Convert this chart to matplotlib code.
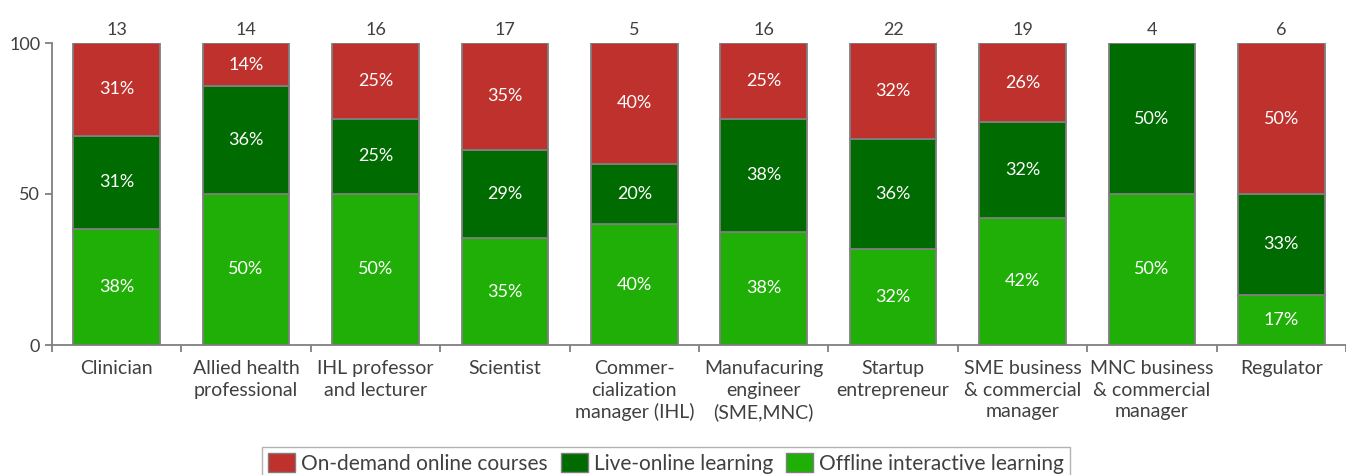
import matplotlib
matplotlib.use("Agg")
import matplotlib.pyplot as plt
from matplotlib.patches import Patch
import numpy as np

categories = ["Clinician", "Allied health\nprofessional", "IHL professor\nand lecturer", "Scientist",
              "Commer-\ncialization\nmanager (IHL)", "Manufacuring\nengineer\n(SME,MNC)",
              "Startup\nentrepreneur", "SME business\n& commercial\nmanager",
              "MNC business\n& commercial\nmanager", "Regulator"]
# respondent counts per preference
offline_counts = [5, 7, 8, 6, 2, 6, 7, 8, 2, 1]
live_counts = [4, 5, 4, 5, 1, 6, 8, 6, 2, 2]
ondemand_counts = [4, 2, 4, 6, 2, 4, 7, 5, 0, 3]
totals = [13, 14, 16, 17, 5, 16, 22, 19, 4, 6]
series_names = ["On-demand online courses", "Live-online learning", "Offline interactive learning"]

c_red = "#BE312D"
c_dark = "#006B00"
c_light = "#1FAF06"
edge = "#7F7F7F"
txt = "#404040"

plt.rcParams['font.family'] = ['Lato', 'DejaVu Sans']

fig = plt.figure(figsize=(13.46, 4.75), dpi=100)
ax = fig.add_axes([52/1346, 1-345/475, 1-52/1346, (345-43)/475])

x = np.arange(len(categories))
tot = np.array(totals, dtype=float)
off = np.array(offline_counts) / tot * 100
live = np.array(live_counts) / tot * 100
ond = np.array(ondemand_counts) / tot * 100
w = 0.67

def draw(vals, bottom, color):
    bars = ax.bar(x, vals, w, bottom=bottom, color=color, edgecolor=edge, linewidth=1.3, zorder=2)
    for xi, v, b in zip(x, vals, bottom):
        if v > 0:
            ax.text(xi, b + v/2, f"{v:.0f}%", ha='center', va='center', color='white', fontsize=13)
    return bars

draw(off, np.zeros(len(x)), c_light)
draw(live, off, c_dark)
draw(ond, off + live, c_red)

for xi, t in zip(x, totals):
    ax.text(xi, 101.5, str(t), ha='center', va='bottom', color=txt, fontsize=13)

ax.set_xlim(-0.5, len(x) - 0.5)
ax.set_ylim(0, 100)
ax.set_yticks([0, 50, 100])
ax.tick_params(axis='y', colors=edge, labelcolor=txt, labelsize=13, length=5, width=1.3)
ax.set_xticks(np.arange(-0.5, len(x)), minor=False)
ax.set_xticklabels([])
ax.tick_params(axis='x', colors=edge, length=5, width=1.3, direction='out')
for xi, lab in zip(x, categories):
    ax.text(xi, -5.0, lab, ha='center', va='top', color=txt, fontsize=14, linespacing=1.32)
for s in ['top', 'right']:
    ax.spines[s].set_visible(False)
for s in ['left', 'bottom']:
    ax.spines[s].set_color(edge)
    ax.spines[s].set_linewidth(1.3)

handles = [Patch(facecolor=c, edgecolor=edge, label=n) for c, n in zip([c_red, c_dark, c_light], series_names)]
leg = fig.legend(handles=handles, loc='upper center', bbox_to_anchor=(666/1346, 1-447/475), ncol=3,
                 frameon=True, fontsize=15, handlelength=1.3, handleheight=1.0, handletextpad=0.3,
                 columnspacing=0.6, borderpad=0.3, borderaxespad=0, fancybox=False, labelcolor=txt)
leg.get_frame().set_edgecolor("#A0A0A0")
leg.get_frame().set_linewidth(1.0)

fig.savefig("out.png", dpi=100)
